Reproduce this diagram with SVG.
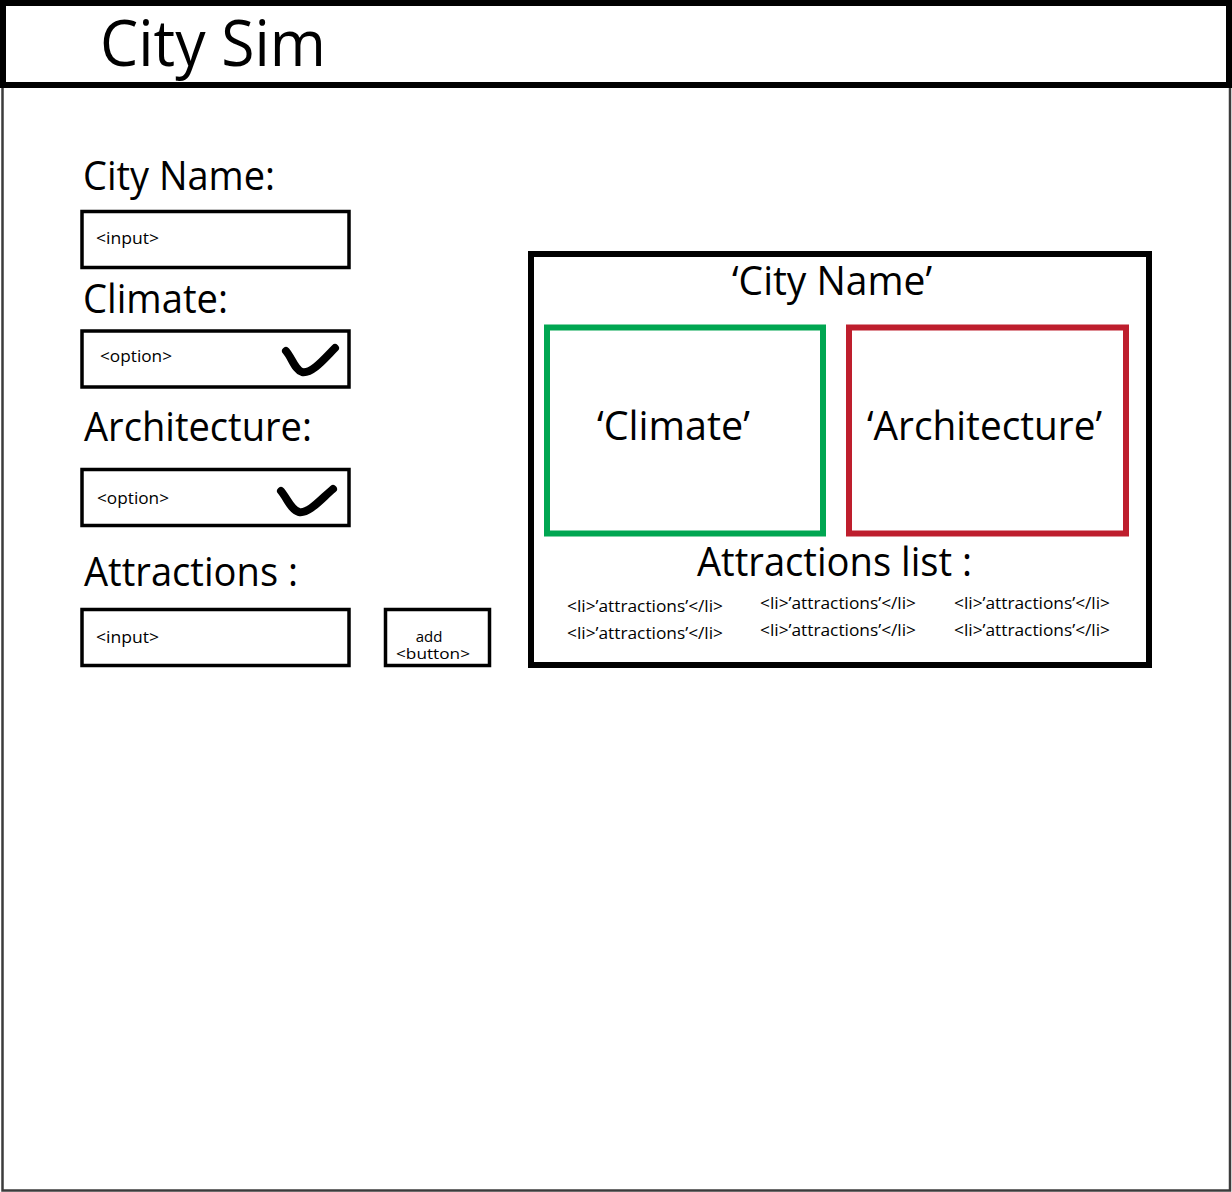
<svg xmlns="http://www.w3.org/2000/svg" width="1232" height="1192" viewBox="0 0 1232 1192">
<style>
  text { font-family: "Open Sans", "Noto Sans", "Liberation Sans", sans-serif; fill: #000; }
  .big { font-size: 41px; }
  .title { font-size: 64px; }
  .small { font-size: 16px; }
  .btn { font-size: 15px; }
  .box { fill: #fff; stroke: #000; stroke-width: 3.5; }
  .check { fill: none; stroke: #000; stroke-width: 8; stroke-linecap: round; stroke-linejoin: round; }
</style>
<rect x="0" y="0" width="1232" height="1192" fill="#fff"/>
<rect id="page" x="2.5" y="2.5" width="1227.5" height="1188" fill="#fff" stroke="#3c3c3c" stroke-width="2.5"/>
<g id="header">
  <rect x="3" y="3" width="1226" height="82" fill="#fff" stroke="#000" stroke-width="6"/>
  <text class="title" x="100" y="66" textLength="226" lengthAdjust="spacingAndGlyphs">City Sim</text>
</g>
<g id="city-name-field">
  <text class="big" x="83" y="190" textLength="192" lengthAdjust="spacingAndGlyphs">City Name:</text>
  <rect class="box" x="82" y="211.5" width="267" height="56"/>
  <text class="small" x="96" y="244" textLength="63" lengthAdjust="spacingAndGlyphs">&lt;input&gt;</text>
</g>
<g id="climate-field">
  <text class="big" x="83" y="313" textLength="145" lengthAdjust="spacingAndGlyphs">Climate:</text>
  <rect class="box" x="82" y="331" width="267" height="56"/>
  <text class="small" x="100" y="362" textLength="72" lengthAdjust="spacingAndGlyphs">&lt;option&gt;</text>
  <path class="check" d="M286,351 C292,358 295,370 302,372 C312,374 325,358 335,348"/>
</g>
<g id="architecture-field">
  <text class="big" x="84" y="441" textLength="228" lengthAdjust="spacingAndGlyphs">Architecture:</text>
  <rect class="box" x="82" y="469.5" width="267" height="56"/>
  <text class="small" x="97" y="504" textLength="72" lengthAdjust="spacingAndGlyphs">&lt;option&gt;</text>
  <path class="check" d="M281,491 C287,498 291,510 299,512 C309,514 322,498 333,489"/>
</g>
<g id="attractions-field">
  <text class="big" x="84" y="586" textLength="214" lengthAdjust="spacingAndGlyphs">Attractions :</text>
  <rect class="box" x="82" y="609.5" width="267" height="56"/>
  <text class="small" x="96" y="643" textLength="63" lengthAdjust="spacingAndGlyphs">&lt;input&gt;</text>
</g>
<g id="add-button">
  <rect class="box" x="385.5" y="609.5" width="104" height="56"/>
  <text class="btn" x="429" y="642" text-anchor="middle">add</text>
  <text class="btn" x="433" y="659" text-anchor="middle" textLength="74" lengthAdjust="spacingAndGlyphs">&lt;button&gt;</text>
</g>
<g id="result-panel">
  <rect x="531" y="254" width="618" height="411" fill="#fff" stroke="#000" stroke-width="6"/>
  <text class="big" x="832" y="295" text-anchor="middle" textLength="200" lengthAdjust="spacingAndGlyphs">‘City Name’</text>
</g>
<g id="climate-card">
  <rect x="547" y="327.5" width="276" height="206" fill="none" stroke="#00A651" stroke-width="6"/>
  <text class="big" x="597" y="440" textLength="153" lengthAdjust="spacingAndGlyphs">‘Climate’</text>
</g>
<g id="architecture-card">
  <rect x="849" y="327.5" width="277" height="206" fill="none" stroke="#BE1E2D" stroke-width="6"/>
  <text class="big" x="867" y="440" textLength="235" lengthAdjust="spacingAndGlyphs">‘Architecture’</text>
</g>
<g id="attractions-list">
  <text class="big" x="697" y="576" textLength="275" lengthAdjust="spacingAndGlyphs">Attractions list :</text>
  <text class="small" x="567" y="612" textLength="156" lengthAdjust="spacingAndGlyphs">&lt;li&gt;’attractions’&lt;/li&gt;</text>
  <text class="small" x="567" y="639" textLength="156" lengthAdjust="spacingAndGlyphs">&lt;li&gt;’attractions’&lt;/li&gt;</text>
  <text class="small" x="760" y="609" textLength="156" lengthAdjust="spacingAndGlyphs">&lt;li&gt;’attractions’&lt;/li&gt;</text>
  <text class="small" x="760" y="636" textLength="156" lengthAdjust="spacingAndGlyphs">&lt;li&gt;’attractions’&lt;/li&gt;</text>
  <text class="small" x="954" y="609" textLength="156" lengthAdjust="spacingAndGlyphs">&lt;li&gt;’attractions’&lt;/li&gt;</text>
  <text class="small" x="954" y="636" textLength="156" lengthAdjust="spacingAndGlyphs">&lt;li&gt;’attractions’&lt;/li&gt;</text>
</g>
<g id="connectors"></g>
</svg>
